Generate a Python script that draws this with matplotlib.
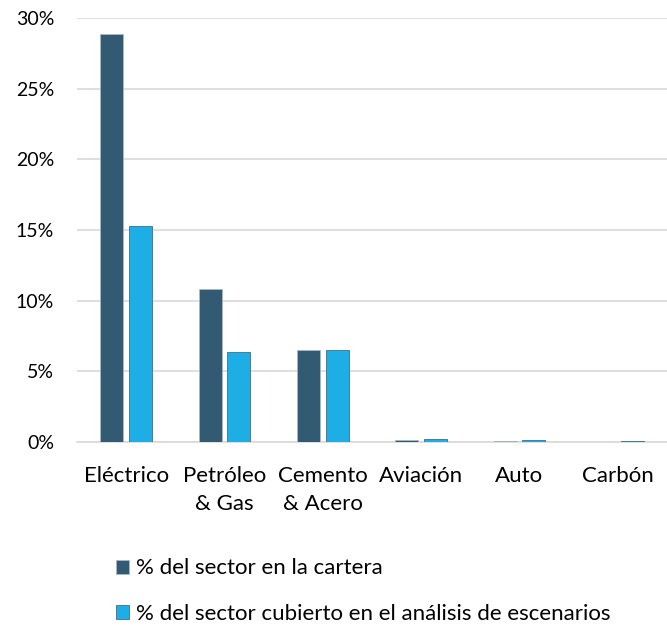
import matplotlib
matplotlib.use("Agg")
import matplotlib.pyplot as plt
from matplotlib.ticker import FuncFormatter
from matplotlib.patches import Patch
import numpy as np

plt.rcParams['font.family'] = ['Lato', 'DejaVu Sans']

categories = ["Eléctrico", "Petróleo\n& Gas", "Cemento\n& Acero", "Aviación", "Auto", "Carbón"]
cartera = [28.9, 10.8, 6.5, 0.15, 0.1, 0.0]
escenarios = [15.3, 6.4, 6.5, 0.2, 0.15, 0.05]
series_names = ["% del sector en la cartera",
                "% del sector cubierto en el análisis de escenarios"]

dark = "#335A73"
light = "#1EAEE6"

fig = plt.figure(figsize=(6.67, 6.27), dpi=100)
ax = fig.add_axes([0.1154, 0.295, 0.8846, 0.6763])

x = np.arange(len(categories))
w = 0.235
off = 0.145
ax.bar(x - off, cartera, w, color=dark, edgecolor="#A9B8C4", linewidth=0.6, zorder=3)
ax.bar(x + off, escenarios, w, color=light, edgecolor="#3F6E8C", linewidth=0.6, zorder=3)

ax.set_xlim(-0.5, len(categories) - 0.5)
ax.set_ylim(0, 30)
ax.set_yticks(np.arange(0, 31, 5))
ax.yaxis.set_major_formatter(FuncFormatter(lambda v, p: f"{v:.0f}%"))
ax.grid(axis="y", color="#D9D9D9", linewidth=1.2, zorder=0)
for s in ["top", "right", "left"]:
    ax.spines[s].set_visible(False)
ax.spines["bottom"].set_color("#D9D9D9")
ax.spines["bottom"].set_linewidth(1.2)
ax.tick_params(axis="both", length=0, colors="#000000")
ax.tick_params(axis="x", pad=17, labelsize=16)
ax.tick_params(axis="y", pad=16.5, labelsize=14)
ax.set_xticks(x)
ax.set_xticklabels(categories, linespacing=1.5)

handles = [Patch(facecolor=dark, edgecolor="#A9B8C4", linewidth=0.6),
           Patch(facecolor=light, edgecolor="#3F6E8C", linewidth=0.6)]
fig.legend(handles, series_names, loc="upper left", bbox_to_anchor=(0.157, 0.127),
           frameon=False, fontsize=16, handlelength=0.6, handleheight=0.6,
           handletextpad=0.3, labelspacing=1.15, borderpad=0)

fig.savefig("out.png", dpi=100)
